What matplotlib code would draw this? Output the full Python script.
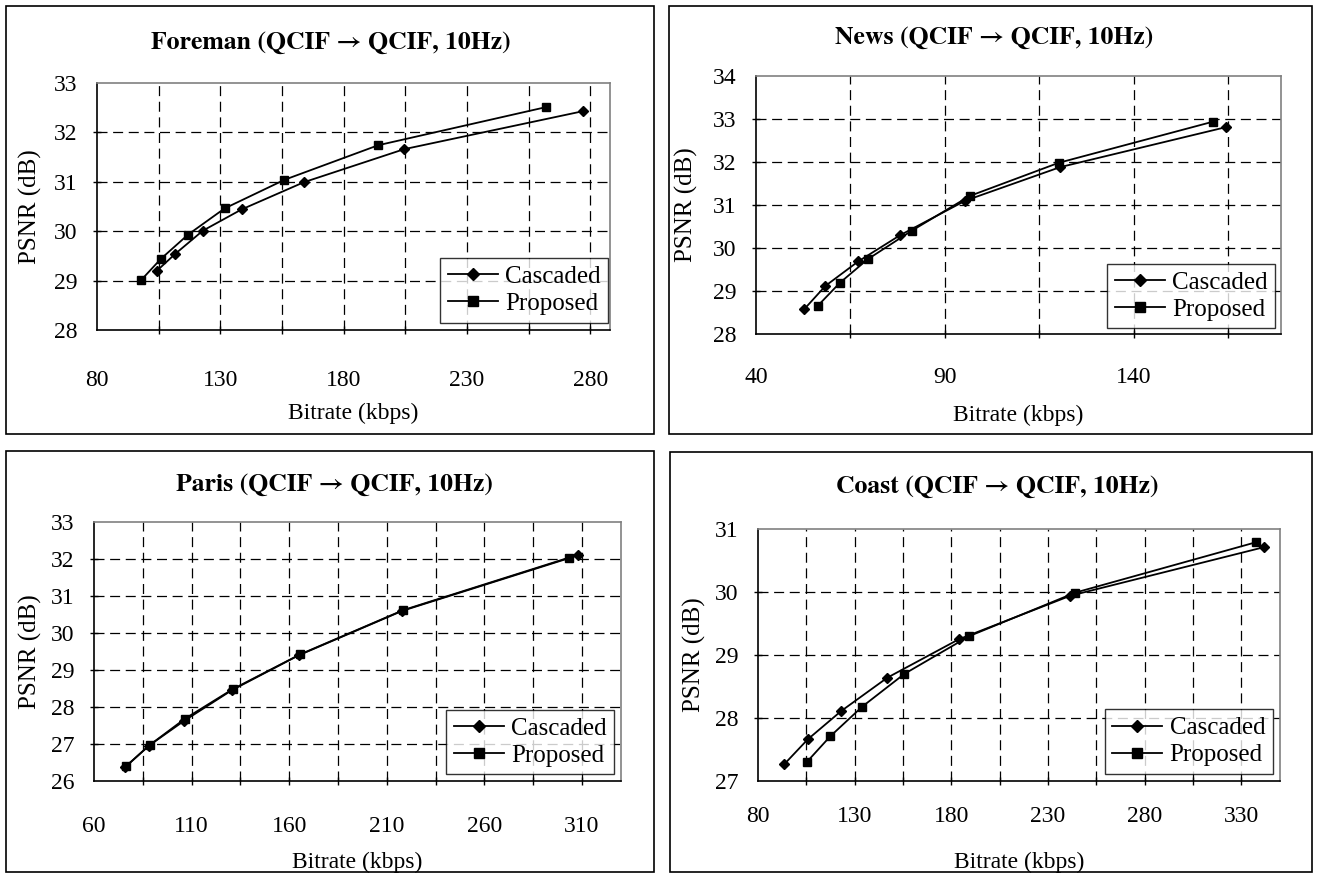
import matplotlib
matplotlib.use("Agg")
import matplotlib.pyplot as plt
from matplotlib.patches import Rectangle

# Data (Bitrate kbps, PSNR dB)
foreman_cas_x = [104.3, 111.7, 122.9, 138.6, 163.8, 204.5, 277.1]
foreman_cas_y = [29.20, 29.54, 30.01, 30.44, 30.99, 31.66, 32.43]
foreman_pro_x = [97.9, 105.9, 116.9, 131.7, 156.0, 194.0, 261.9]
foreman_pro_y = [29.01, 29.44, 29.93, 30.46, 31.04, 31.74, 32.51]

news_cas_x = [52.7, 58.4, 67.1, 78.2, 95.4, 120.5, 164.4]
news_cas_y = [28.57, 29.12, 29.69, 30.30, 31.10, 31.88, 32.81]
news_pro_x = [56.4, 62.2, 69.6, 81.2, 96.6, 120.1, 161.1]
news_pro_y = [28.66, 29.19, 29.74, 30.40, 31.21, 31.98, 32.94]

paris_cas_x = [76.0, 88.0, 106.0, 130.5, 165.0, 218.0, 308.0]
paris_cas_y = [26.38, 26.95, 27.62, 28.45, 29.40, 30.60, 32.10]
paris_pro_x = [76.5, 88.5, 106.5, 131.0, 165.5, 218.5, 303.5]
paris_pro_y = [26.40, 26.97, 27.68, 28.48, 29.42, 30.62, 32.04]

coast_cas_x = [93.7, 105.7, 123.0, 146.9, 183.9, 241.5, 341.5]
coast_cas_y = [27.27, 27.66, 28.11, 28.64, 29.25, 29.94, 30.71]
coast_pro_x = [105.2, 117.4, 133.9, 155.7, 189.3, 244.1, 337.6]
coast_pro_y = [27.30, 27.71, 28.18, 28.70, 29.30, 29.99, 30.79]

series_names = ["Cascaded", "Proposed"]
titles = ["Foreman (QCIF \u2192 QCIF, 10Hz)", "News (QCIF \u2192 QCIF, 10Hz)",
          "Paris (QCIF \u2192 QCIF, 10Hz)", "Coast (QCIF \u2192 QCIF, 10Hz)"]

W, H = 1318, 876
plt.rcParams['font.family'] = ['Liberation Serif', 'DejaVu Serif']
fig = plt.figure(figsize=(W / 100, H / 100), dpi=100)


def px_box(l, t, r, b):
    return [l / W, 1 - b / H, (r - l) / W, (b - t) / H]


# per panel: axes box / frame in pixels, title pos, axis ranges, ticks, label positions
panels = [
    dict(ax=(97, 83, 610, 330), frame=(6, 6, 654, 434), title=(331, 43),
         xlim=(80, 288), xt=range(80, 281, 50), xg=range(105, 281, 25),
         ylim=(28, 33), yt=range(28, 34), ylab=30, xlab=413, xpad=29,
         leg=(0.997, 0.03),
         data=(foreman_cas_x, foreman_cas_y, foreman_pro_x, foreman_pro_y)),
    dict(ax=(756, 76, 1281, 334), frame=(669, 6, 1312, 434), title=(994, 38),
         xlim=(40, 179), xt=range(40, 141, 50), xg=range(65, 170, 25),
         ylim=(28, 34), yt=range(28, 35), ylab=686, xlab=415, xpad=24,
         leg=(0.989, 0.023),
         data=(news_cas_x, news_cas_y, news_pro_x, news_pro_y)),
    dict(ax=(94, 522, 621, 781), frame=(6, 451, 654, 872), title=(334, 485),
         xlim=(60, 330), xt=range(60, 311, 50), xg=range(85, 311, 25),
         ylim=(26, 33), yt=range(26, 34), ylab=30, xlab=862, xpad=25,
         leg=(0.987, 0.027),
         data=(paris_cas_x, paris_cas_y, paris_pro_x, paris_pro_y)),
    dict(ax=(758, 529, 1280, 781), frame=(670, 452, 1312, 872), title=(997, 487),
         xlim=(80, 350), xt=range(80, 331, 50), xg=range(105, 331, 25),
         ylim=(27, 31), yt=range(27, 32), ylab=694, xlab=862, xpad=18,
         leg=(0.986, 0.028),
         data=(coast_cas_x, coast_cas_y, coast_pro_x, coast_pro_y)),
]

for p, title in zip(panels, titles):
    # outer panel frame
    l, t, r, b = p['frame']
    fig.patches.append(Rectangle((l / W, 1 - b / H), (r - l) / W, (b - t) / H,
                                 transform=fig.transFigure, fill=False,
                                 edgecolor='black', linewidth=1.2))

    ax = fig.add_axes(px_box(*p['ax']))
    cx, cy, px_, py_ = p['data']
    ax.plot(cx, cy, color='black', lw=1.3, marker='D', ms=5.5, label=series_names[0], zorder=3)
    ax.plot(px_, py_, color='black', lw=1.3, marker='s', ms=6, label=series_names[1], zorder=3)

    ax.set_xlim(*p['xlim'])
    ax.set_ylim(*p['ylim'])
    ax.xaxis.remove_overlapping_locs = False
    ax.yaxis.remove_overlapping_locs = False
    ax.set_xticks(list(p['xt']))
    ax.set_xticks(list(p['xg']), minor=True)
    ax.set_yticks(list(p['yt']))
    ax.set_yticks(list(p['yt'])[1:-1], minor=True)
    ax.tick_params(axis='both', which='major', length=0, labelsize=17)
    ax.tick_params(axis='both', which='minor', length=6, width=1, direction='inout')
    ax.tick_params(axis='x', which='major', pad=p['xpad'])
    ax.tick_params(axis='y', which='major', pad=14)
    ax.grid(which='minor', color='black', linestyle=(0, (8, 4.5)), linewidth=0.9)
    ax.set_axisbelow(True)

    for s in ['left', 'bottom']:
        ax.spines[s].set_color('black')
        ax.spines[s].set_linewidth(1.2)
    for s in ['top', 'right']:
        ax.spines[s].set_color('#808080')
        ax.spines[s].set_linewidth(1.2)

    leg = ax.legend(loc='lower right', bbox_to_anchor=p['leg'], borderaxespad=0,
                    fontsize=18, frameon=True, fancybox=False, edgecolor='black',
                    handlelength=2.0, handletextpad=0.3, labelspacing=0.18,
                    borderpad=0.3, markerscale=1.15)
    leg.get_frame().set_linewidth(1.0)
    leg.set_zorder(5)

    # titles and axis labels
    fig.text(p['title'][0] / W, 1 - p['title'][1] / H, title, ha='center', va='center',
             fontsize=18.5, fontweight='bold', family=['STIXGeneral', 'Liberation Serif'])
    axl, axt, axr, axb = p['ax']
    fig.text(p['ylab'] / W, 1 - (axt + axb) / 2 / H, "PSNR (dB)", rotation=90,
             ha='center', va='center', fontsize=18)
    fig.text((axl + axr) / 2 / W, 1 - p['xlab'] / H, "Bitrate (kbps)",
             ha='center', va='center', fontsize=17)

fig.savefig("out.png", dpi=100)
